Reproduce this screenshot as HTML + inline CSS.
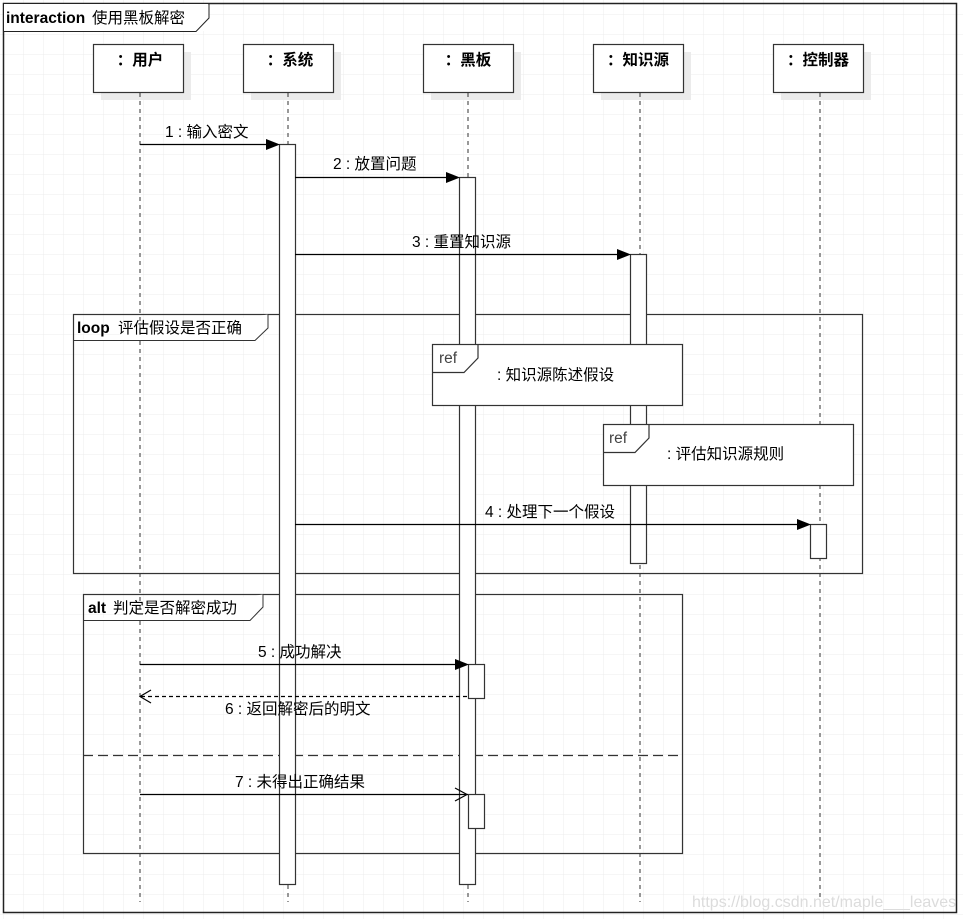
<!DOCTYPE html>
<html><head><meta charset="utf-8"><style>
html,body{margin:0;padding:0;background:#fff;}
svg{display:block;}
text{font-family:"Liberation Sans","Noto Sans CJK SC",sans-serif;font-size:15.5px;fill:#000;}
.b{font-weight:bold;}
.g{fill:#444;}
.w{fill:#dcdcdc;font-size:16px;}
</style></head><body>
<svg width="963" height="919" xmlns="http://www.w3.org/2000/svg">
<defs>
<pattern id="g" x="3" y="14" width="20" height="20" patternUnits="userSpaceOnUse">
<path d="M0 0H20M0 0V20" stroke="#ececec" stroke-width="1" fill="none"/>
</pattern>
</defs>
<rect width="963" height="919" fill="#fff"/>
<rect width="963" height="919" fill="url(#g)"/>
<rect x="3.5" y="3.5" width="953" height="909" fill="none" stroke="#222" stroke-width="1.5"/>
<rect x="4" y="4" width="204" height="27" fill="#fff"/>
<path d="M3.5 31.5H196L209 18V3.5" fill="none" stroke="#222"/>
<text x="6" y="23" class="b">interaction</text><text x="92" y="23">使用黑板解密</text>

<g fill="#ebebeb">
<rect x="101" y="52" width="90" height="48"/><rect x="251" y="52" width="90" height="48"/>
<rect x="431" y="52" width="90" height="48"/><rect x="601" y="52" width="90" height="48"/>
<rect x="781" y="52" width="90" height="48"/>
</g>
<g fill="#fff" stroke="#333" stroke-width="1.2">
<rect x="93.5" y="44.5" width="90" height="48"/><rect x="243.5" y="44.5" width="90" height="48"/>
<rect x="423.5" y="44.5" width="90" height="48"/><rect x="593.5" y="44.5" width="90" height="48"/>
<rect x="773.5" y="44.5" width="90" height="48"/>
</g>
<g text-anchor="middle">
<text x="140" y="65" class="b">：用户</text><text x="290" y="65" class="b">：系统</text>
<text x="468" y="65" class="b">：黑板</text><text x="638" y="65" class="b">：知识源</text>
<text x="818" y="65" class="b">：控制器</text>
</g>
<g stroke="#333" stroke-dasharray="4,4" stroke-width="1">
<line x1="140" y1="93" x2="140" y2="902"/><line x1="288" y1="93" x2="288" y2="902"/>
<line x1="468" y1="93" x2="468" y2="902"/><line x1="640" y1="93" x2="640" y2="902"/>
<line x1="820" y1="93" x2="820" y2="902"/>
</g>
<rect x="73.5" y="314.5" width="789" height="259" fill="none" stroke="#333" stroke-width="1.2"/>
<path d="M73.5 340.5H255L268 328V314.5" fill="#fff" stroke="#333"/>
<text x="77" y="333" class="b">loop</text><text x="118" y="333">评估假设是否正确</text>
<rect x="83.5" y="594.5" width="599" height="259" fill="none" stroke="#333" stroke-width="1.2"/>
<path d="M83.5 620.5H250L263 607V594.5" fill="#fff" stroke="#333"/>
<text x="88" y="613" class="b">alt</text><text x="113" y="613">判定是否解密成功</text>
<line x1="83" y1="755.5" x2="683" y2="755.5" stroke="#333" stroke-dasharray="10,5" stroke-width="1.2"/>

<g fill="#fff" stroke="#333" stroke-width="1.2">
<rect x="279.5" y="144.5" width="16" height="740"/>
<rect x="459.5" y="177.5" width="16" height="707"/>
<rect x="630.5" y="254.5" width="16" height="309"/>
<rect x="810.5" y="524.5" width="16" height="34"/>
<rect x="468.5" y="664.5" width="16" height="34"/>
<rect x="468.5" y="794.5" width="16" height="34"/>
</g>
<g stroke="#333" stroke-width="1.2">
<rect x="432.5" y="344.5" width="250" height="61" fill="#fff"/>
<path d="M432.5 372.5H464L478 358V344.5" fill="none"/>
<rect x="603.5" y="424.5" width="250" height="61" fill="#fff"/>
<path d="M603.5 452.5H635L649 438V424.5" fill="none"/>
</g>
<text x="439" y="363" class="g">ref</text>
<text x="497" y="380">: 知识源陈述假设</text>
<text x="609" y="443" class="g">ref</text>
<text x="667" y="459">: 评估知识源规则</text>

<g stroke="#000" stroke-width="1.2" fill="none">
<line x1="140" y1="144.5" x2="268" y2="144.5"/>
<line x1="295" y1="177.5" x2="448" y2="177.5"/>
<line x1="295" y1="254.5" x2="619" y2="254.5"/>
<line x1="295" y1="524.5" x2="799" y2="524.5"/>
<line x1="140" y1="664.5" x2="457" y2="664.5"/>
<line x1="141" y1="696.5" x2="468" y2="696.5" stroke-dasharray="4,3"/>
<polyline points="151,690 140,696.5 151,703"/>
<line x1="140" y1="794.5" x2="468" y2="794.5"/>
<polyline points="455,788 467,794.5 455,801"/>
</g>
<g fill="#000">
<polygon points="266,139 280,144.5 266,150"/>
<polygon points="446,172 460,177.5 446,183"/>
<polygon points="617,249 631,254.5 617,260"/>
<polygon points="797,519 811,524.5 797,530"/>
<polygon points="455,659 469,664.5 455,670"/>
</g>
<text x="165" y="137">1 : 输入密文</text>
<text x="333" y="169">2 : 放置问题</text>
<text x="412" y="247">3 : 重置知识源</text>
<text x="485" y="517">4 : 处理下一个假设</text>
<text x="258" y="657">5 : 成功解决</text>
<text x="225" y="714">6 : 返回解密后的明文</text>
<text x="235" y="787">7 : 未得出正确结果</text>
<text x="692" y="907" class="w">https://blog.csdn.net/maple___leaves</text>
</svg>
</body></html>
